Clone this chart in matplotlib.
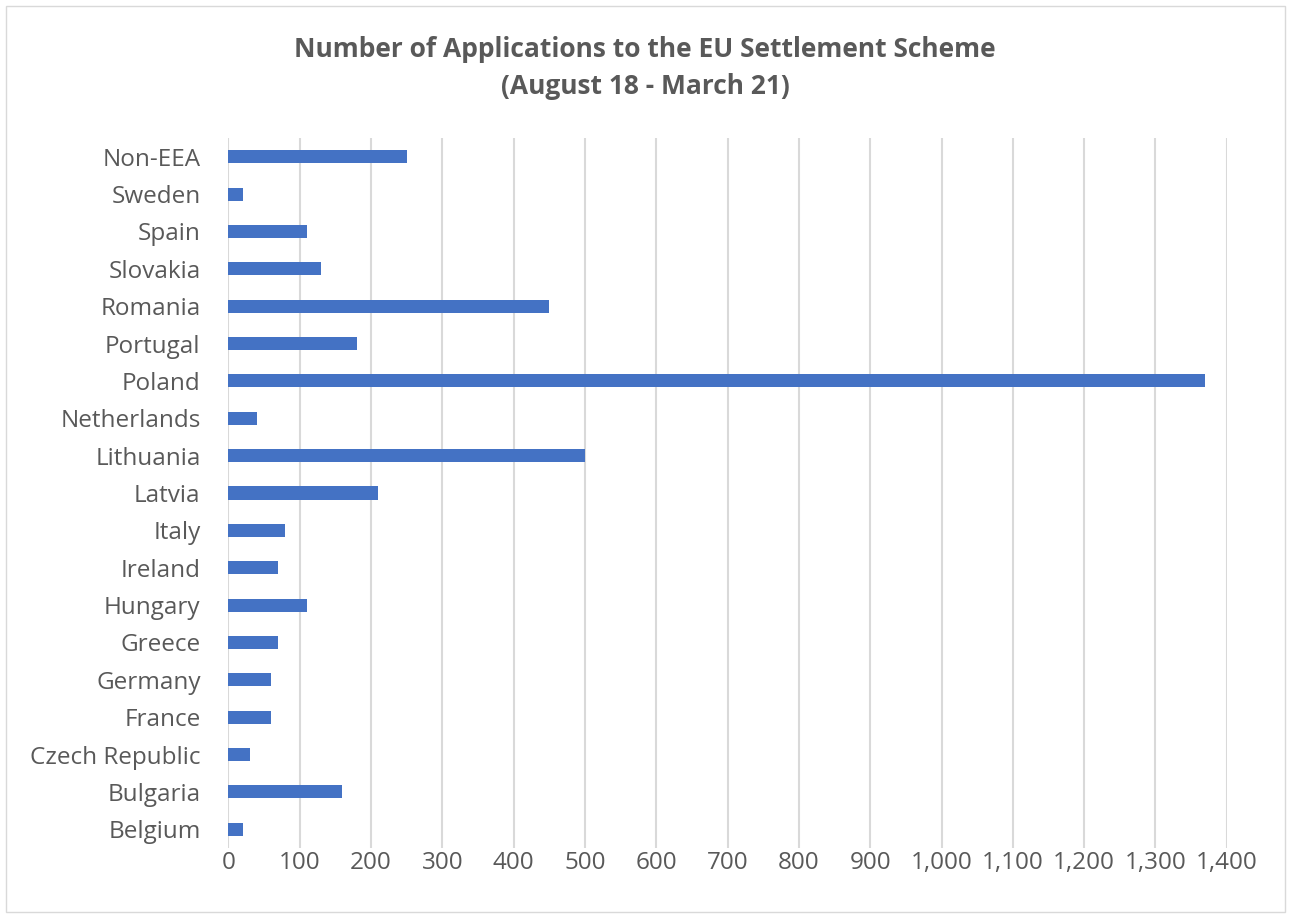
import matplotlib.pyplot as plt
from matplotlib.patches import Rectangle
from matplotlib.ticker import FuncFormatter

# data (bottom to top, as drawn)
countries = ["Belgium", "Bulgaria", "Czech Republic", "France", "Germany", "Greece",
             "Hungary", "Ireland", "Italy", "Latvia", "Lithuania", "Netherlands",
             "Poland", "Portugal", "Romania", "Slovakia", "Spain", "Sweden", "Non-EEA"]
applications = [20, 160, 30, 60, 60, 70, 110, 70, 80, 210, 500, 40,
                1370, 180, 450, 130, 110, 20, 250]
xticks = list(range(0, 1401, 100))

plt.rcParams['font.family'] = ['Open Sans', 'DejaVu Sans']
grey = "#595959"

fig = plt.figure(figsize=(12.9, 9.19), dpi=100)
ax = fig.add_axes([0.177, 0.0773, 0.774, 0.7725])

ax.barh(range(len(countries)), applications, height=0.35, color="#4472C4", zorder=3)
ax.set_ylim(-0.5, len(countries) - 0.5)
ax.set_xlim(0, 1400)
ax.set_yticks(range(len(countries)))
ax.set_yticklabels(countries)
ax.set_xticks(xticks)
ax.xaxis.set_major_formatter(FuncFormatter(lambda v, p: f"{int(v):,}"))
ax.tick_params(axis='both', length=0, labelsize=17.5, labelcolor=grey)
ax.tick_params(axis='x', pad=2)
ax.tick_params(axis='y', pad=20)
ax.grid(axis='x', color="#D9D9D9", linewidth=1.5, zorder=0)
for s in ax.spines.values():
    s.set_visible(False)

fig.text(0.5, 0.926, "Number of Applications to the EU Settlement Scheme\n(August 18 - March 21)",
         ha='center', va='center', fontsize=19, fontweight='bold', color=grey, linespacing=1.5)

fig.patches.append(Rectangle((6 / 1290, 1 - 912 / 919), 1279 / 1290, 906 / 919,
                             transform=fig.transFigure, fill=False, edgecolor="#D9D9D9", linewidth=1))

fig.savefig("out.png", dpi=100)
